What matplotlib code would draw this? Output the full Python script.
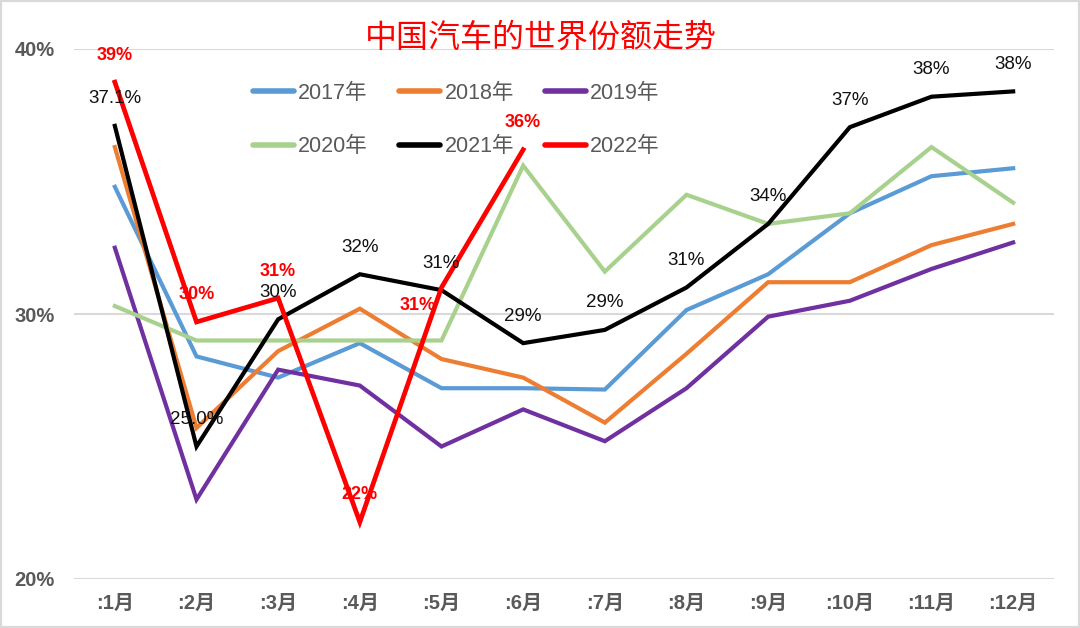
import matplotlib
matplotlib.use("Agg")
import matplotlib.pyplot as plt
from matplotlib.patches import Rectangle

plt.rcParams['font.family'] = ['Liberation Sans', 'Noto Sans CJK SC', 'DejaVu Sans']

months = [":1月", ":2月", ":3月", ":4月", ":5月", ":6月", ":7月", ":8月", ":9月", ":10月", ":11月", ":12月"]

s2017 = [34.8, 28.4, 27.6, 28.9, 27.2, 27.2, 27.15, 30.15, 31.5, 33.8, 35.2, 35.5]
s2018 = [36.3, 25.7, 28.6, 30.2, 28.3, 27.6, 25.9, 28.5, 31.2, 31.2, 32.6, 33.4]
s2019 = [32.5, 23.0, 27.9, 27.3, 25.0, 26.4, 25.2, 27.2, 29.9, 30.5, 31.7, 32.7]
s2020 = [30.3, 29.0, 29.0, 29.0, 29.0, 35.6, 31.6, 34.5, 33.4, 33.8, 36.3, 34.2]
s2021 = [37.1, 25.0, 29.8, 31.5, 30.9, 28.9, 29.4, 31.0, 33.4, 37.05, 38.2, 38.4]
s2022 = [38.75, 29.7, 30.6, 22.15, 31.0, 36.2]

labels2021 = ["37.1%", "25.0%", "30%", "32%", "31%", "29%", "29%", "31%", "34%", "37%", "38%", "38%"]
labels2022 = ["39%", "30%", "31%", "22%", "31%", "36%"]

series_names = ["2017年", "2018年", "2019年", "2020年", "2021年", "2022年"]
colors = ["#5B9BD5", "#ED7D31", "#7030A0", "#A9D18E", "#000000", "#FF0000"]
yticks = [20, 30, 40]
ytick_labels = ["20%", "30%", "40%"]

fig = plt.figure(figsize=(10.8, 6.28), dpi=100)
ax = fig.add_axes([74/1080, 1-579/628, (1054-74)/1080, (579-49)/628])

x = list(range(len(months)))
data = [s2017, s2018, s2019, s2020, s2021, s2022]
handles = []
for i, (vals, name, c) in enumerate(zip(data, series_names, colors)):
    lw = 3.4 if i == 5 else 3.0
    h, = ax.plot(x[:len(vals)], vals, color=c, lw=lw, label=name, solid_joinstyle='miter', zorder=3 + i)
    handles.append(h)

for xi, v, t in zip(x, s2021, labels2021):
    ax.annotate(t, (xi, v), xytext=(0, 19.5), textcoords='offset points',
                ha='center', va='center', fontsize=13.5, color='#111111', zorder=20)

for i, (xi, v, t) in enumerate(zip(x, s2022, labels2022)):
    off = (-17, -13) if i == 4 else (0, 19.5)
    ax.annotate(t, (xi, v), xytext=off, textcoords='offset points',
                ha='center', va='center', fontsize=13, color='#FF0000',
                fontweight='bold', zorder=20)

ax.set_xlim(-0.5, 11.5)
ax.set_ylim(20, 40)
ax.set_yticks(yticks)
ax.set_yticklabels(ytick_labels)
ax.set_xticks(x)
ax.set_xticklabels(months)
ax.tick_params(axis='both', length=0, colors='#595959', labelsize=14.5)
ax.tick_params(axis='y', pad=14)
ax.tick_params(axis='x', pad=11)
for lab in ax.get_xticklabels() + ax.get_yticklabels():
    lab.set_fontweight('bold')
for sp in ax.spines.values():
    sp.set_visible(False)
ax.grid(axis='y', color='#D9D9D9', lw=1.5, zorder=0)
ax.set_axisbelow(True)

order = [0, 3, 1, 4, 2, 5]
leg = ax.legend([handles[k] for k in order], [series_names[k] for k in order],
                ncol=3, loc='upper left', bbox_to_anchor=(253/1080, 1-83/628),
                bbox_transform=fig.transFigure, frameon=False, fontsize=15.5,
                handlelength=1.9, handletextpad=0.2, columnspacing=1.45,
                labelspacing=1.5, borderpad=0, borderaxespad=0)
for t in leg.get_texts():
    t.set_color('#595959')
for h in leg.get_lines():
    h.set_linewidth(4)
    h.set_solid_capstyle('round')

fig.text(541/1080, 1-38/628, "中国汽车的世界份额走势", ha='center', va='center',
         fontsize=23, color='#FF0000', family=['Noto Sans CJK SC'], zorder=30)

fig.patches.append(Rectangle((0, 0), 1, 1, transform=fig.transFigure, fill=False,
                             edgecolor='#D9D9D9', lw=3))

fig.savefig("out.png", dpi=100, facecolor='white')
